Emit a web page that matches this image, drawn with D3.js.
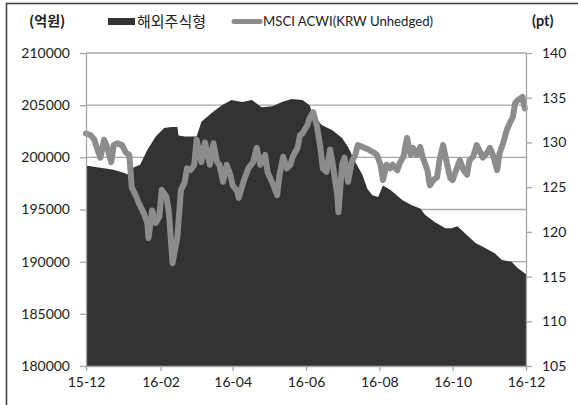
<!DOCTYPE html>
<html>
<head>
<meta charset="utf-8">
<script src="https://cdn.jsdelivr.net/npm/d3@7"></script>
<style>
  body { margin: 0; background: #fff; }
  svg { display: block; }
</style>
</head>
<body>
<svg id="chart" width="578" height="405"></svg>
<script>
// 해외주식형 펀드 설정액 (억원), left axis
const fundDates = [
  "2015-12-01","2015-12-02","2015-12-13","2015-12-24","2016-01-02","2016-01-06","2016-01-09",
  "2016-01-15","2016-01-21","2016-01-28","2016-02-04","2016-02-10","2016-02-15","2016-02-16",
  "2016-02-21","2016-03-02","2016-03-06","2016-03-15","2016-03-23","2016-03-31","2016-04-09",
  "2016-04-17","2016-04-25","2016-05-04","2016-05-12","2016-05-20","2016-05-29","2016-06-04",
  "2016-06-06","2016-06-14","2016-06-23","2016-07-01","2016-07-06","2016-07-12","2016-07-18",
  "2016-07-22","2016-07-26","2016-07-31","2016-08-04","2016-08-10","2016-08-14","2016-08-20",
  "2016-08-28","2016-09-04","2016-09-08","2016-09-16","2016-09-25","2016-09-30","2016-10-05",
  "2016-10-11","2016-10-20","2016-10-28","2016-11-05","2016-11-11","2016-11-19","2016-11-24",
  "2016-11-30","2016-12-01"
];
const fundValues = [
  199200,199200,199000,198800,198500,198300,199000,
  199300,200700,202000,202800,202900,202900,202100,
  202000,202000,203400,204300,205000,205500,205300,
  205500,204800,204900,205300,205600,205500,205000,
  204300,203100,202600,201850,201000,199550,198300,
  197000,196400,196200,197300,196900,196500,195900,
  195400,195100,194500,193800,193200,193200,193400,
  192750,191800,191300,190800,190150,190000,189400,
  188900,188800
];

// MSCI ACWI (KRW Unhedged), right axis
const msciDates = [
  "2015-12-01","2015-12-05","2015-12-08","2015-12-10","2015-12-13","2015-12-16","2015-12-18",
  "2015-12-22","2015-12-24","2015-12-27","2015-12-31","2016-01-03","2016-01-06","2016-01-07",
  "2016-01-08","2016-01-12","2016-01-14","2016-01-18","2016-01-21","2016-01-22","2016-01-25",
  "2016-01-28","2016-01-31","2016-02-02","2016-02-06","2016-02-08","2016-02-11","2016-02-15",
  "2016-02-18","2016-02-21","2016-02-23","2016-02-26","2016-02-29","2016-03-02","2016-03-06",
  "2016-03-09","2016-03-13","2016-03-16","2016-03-19","2016-03-21","2016-03-24","2016-03-27",
  "2016-03-30","2016-04-01","2016-04-05","2016-04-06","2016-04-10","2016-04-14","2016-04-18",
  "2016-04-21","2016-04-24","2016-04-28","2016-04-30","2016-05-05","2016-05-08","2016-05-10",
  "2016-05-13","2016-05-16","2016-05-19","2016-05-21","2016-05-25","2016-05-27","2016-05-29",
  "2016-06-02","2016-06-04","2016-06-07","2016-06-10","2016-06-13","2016-06-15","2016-06-18",
  "2016-06-21","2016-06-23","2016-06-27","2016-06-28","2016-07-01","2016-07-03","2016-07-06",
  "2016-07-09","2016-07-12","2016-07-14","2016-07-18","2016-07-23","2016-07-27","2016-07-30",
  "2016-08-02","2016-08-04","2016-08-07","2016-08-10","2016-08-12","2016-08-16","2016-08-18",
  "2016-08-21","2016-08-24","2016-08-27","2016-08-29","2016-09-01","2016-09-04","2016-09-06",
  "2016-09-10","2016-09-12","2016-09-15","2016-09-18","2016-09-20","2016-09-23","2016-09-26",
  "2016-09-29","2016-10-01","2016-10-05","2016-10-07","2016-10-10","2016-10-13","2016-10-15",
  "2016-10-18","2016-10-21","2016-10-24","2016-10-26","2016-10-30","2016-11-01","2016-11-04",
  "2016-11-07","2016-11-09","2016-11-12","2016-11-15","2016-11-18","2016-11-20","2016-11-22",
  "2016-11-24","2016-11-28","2016-11-30"
];
const msciValues = [
  131.0,130.8,130.3,129.4,128.3,130.3,129.7,
  127.8,129.7,129.9,129.7,128.9,128.6,126.9,
  125.0,123.9,123.2,122.1,121.0,119.3,122.4,
  121.0,121.7,124.7,123.9,122.1,116.5,119.4,
  124.7,125.5,127.1,126.9,127.5,130.3,127.8,
  130.0,127.5,129.9,127.8,127.5,125.6,127.5,
  126.4,125.2,124.5,123.8,125.6,127.1,127.8,
  129.4,127.5,128.6,126.7,125.2,124.1,126.4,
  128.4,127.1,127.5,128.4,129.4,130.8,131.0,
  131.9,132.7,133.4,131.9,129.4,127.1,126.7,
  129.2,127.8,124.1,122.2,127.5,128.3,125.6,
  127.8,128.6,129.7,129.5,129.2,128.9,128.6,
  127.5,125.8,127.5,127.1,127.5,126.9,127.7,
  128.4,130.5,128.6,129.4,128.6,129.5,128.4,
  126.9,125.2,125.8,126.1,128.0,129.7,127.8,
  126.0,125.8,127.3,128.0,126.9,126.4,128.0,
  128.4,129.7,128.9,128.3,128.9,129.4,128.4,
  126.9,128.8,129.9,131.4,132.3,132.8,134.4,
  134.7,135.1,133.8
];

const leftTicks = [180000, 185000, 190000, 195000, 200000, 205000, 210000];
const rightTicks = [105, 110, 115, 120, 125, 130, 135, 140];
const monthTicks = ["2015-12-01","2016-02-01","2016-04-01","2016-06-01","2016-08-01","2016-10-01","2016-12-01"];

const seriesNames = ["해외주식형", "MSCI ACWI(KRW Unhedged)"];
const unitLeft = "(억원)";
const unitRight = "(pt)";

const parse = d3.utcParse("%Y-%m-%d");
const fmtMonth = d3.utcFormat("%y-%m");
const fmtLeft = d3.format("d");

const fund = fundDates.map((d, i) => ({ date: parse(d), value: fundValues[i] }));
const msci = msciDates.map((d, i) => ({ date: parse(d), value: msciValues[i] }));

const plot = { left: 86, right: 526, top: 53, bottom: 366 };
const latin = "Lato, 'Open Sans', 'Liberation Sans', sans-serif";
const korean = "'Noto Sans CJK KR', 'Noto Sans', sans-serif";
const textColor = "#222";
const gridColor = "#a6a6a6";
const areaColor = "#333333";
const lineColor = "#8c8c8c";

const x = d3.scaleUtc()
  .domain([parse(monthTicks[0]), parse(monthTicks[monthTicks.length - 1])])
  .range([plot.left, plot.right]);
const yL = d3.scaleLinear().domain([180000, 210000]).range([plot.bottom, plot.top]);
const yR = d3.scaleLinear().domain([105, 140]).range([plot.bottom, plot.top]);

const svg = d3.select("#chart");

// outer frame
svg.append("rect")
  .attr("x", 6.5).attr("y", 3.5)
  .attr("width", 573).attr("height", 405)
  .attr("fill", "#fff")
  .attr("stroke", "#444").attr("stroke-width", 1.6);

// horizontal gridlines
svg.append("g")
  .selectAll("line")
  .data(leftTicks.slice(1))
  .join("line")
  .attr("x1", plot.left).attr("x2", plot.right)
  .attr("y1", d => yL(d)).attr("y2", d => yL(d))
  .attr("stroke", gridColor).attr("stroke-width", 1.3);

// fund area
svg.append("path")
  .datum(fund)
  .attr("fill", areaColor)
  .attr("d", d3.area()
    .x(d => x(d.date))
    .y0(yL(180000))
    .y1(d => yL(d.value)));

// MSCI line
svg.append("path")
  .datum(msci)
  .attr("fill", "none")
  .attr("stroke", lineColor)
  .attr("stroke-width", 6)
  .attr("stroke-linejoin", "round")
  .attr("stroke-linecap", "round")
  .attr("d", d3.line()
    .x(d => x(d.date))
    .y(d => yR(d.value)));

// axes
function styleAxis(g) {
  g.select(".domain").attr("stroke", gridColor).attr("stroke-width", 1.3);
  g.selectAll(".tick line").attr("stroke", gridColor).attr("stroke-width", 1.3);
  g.selectAll(".tick text")
    .attr("fill", textColor)
    .style("font-family", latin)
    .style("font-size", "14px");
}

svg.append("g")
  .attr("transform", `translate(${plot.left},0)`)
  .call(d3.axisLeft(yL).tickValues(leftTicks).tickFormat(fmtLeft).tickSize(6).tickSizeOuter(0).tickPadding(10))
  .call(styleAxis);

svg.append("g")
  .attr("transform", `translate(${plot.right},0)`)
  .call(d3.axisRight(yR).tickValues(rightTicks).tickSize(6).tickSizeOuter(0).tickPadding(10))
  .call(styleAxis);

svg.append("g")
  .attr("transform", `translate(0,${plot.bottom})`)
  .call(d3.axisBottom(x).tickValues(monthTicks.map(parse)).tickFormat(fmtMonth).tickSize(5).tickSizeOuter(0).tickPadding(6))
  .call(styleAxis);

// legend and unit labels
const legend = svg.append("g");
legend.append("text")
  .attr("x", 29).attr("y", 26)
  .attr("fill", textColor)
  .style("font-family", korean).style("font-size", "14px").style("font-weight", "bold")
  .text(unitLeft);
legend.append("text")
  .attr("x", 532).attr("y", 26)
  .attr("fill", textColor)
  .style("font-family", latin).style("font-size", "14.5px").style("font-weight", "bold")
  .text(unitRight);

legend.append("rect")
  .attr("x", 108).attr("y", 18).attr("width", 27).attr("height", 7)
  .attr("fill", areaColor);
legend.append("text")
  .attr("x", 137).attr("y", 26.5)
  .attr("fill", textColor)
  .style("font-family", korean).style("font-size", "15px")
  .text(seriesNames[0]);

legend.append("line")
  .attr("x1", 234).attr("x2", 260).attr("y1", 21.5).attr("y2", 21.5)
  .attr("stroke", lineColor).attr("stroke-width", 5).attr("stroke-linecap", "round");
legend.append("text")
  .attr("x", 263).attr("y", 26)
  .attr("fill", textColor)
  .style("font-family", latin).style("font-size", "13.2px")
  .text(seriesNames[1]);
</script>
</body>
</html>
